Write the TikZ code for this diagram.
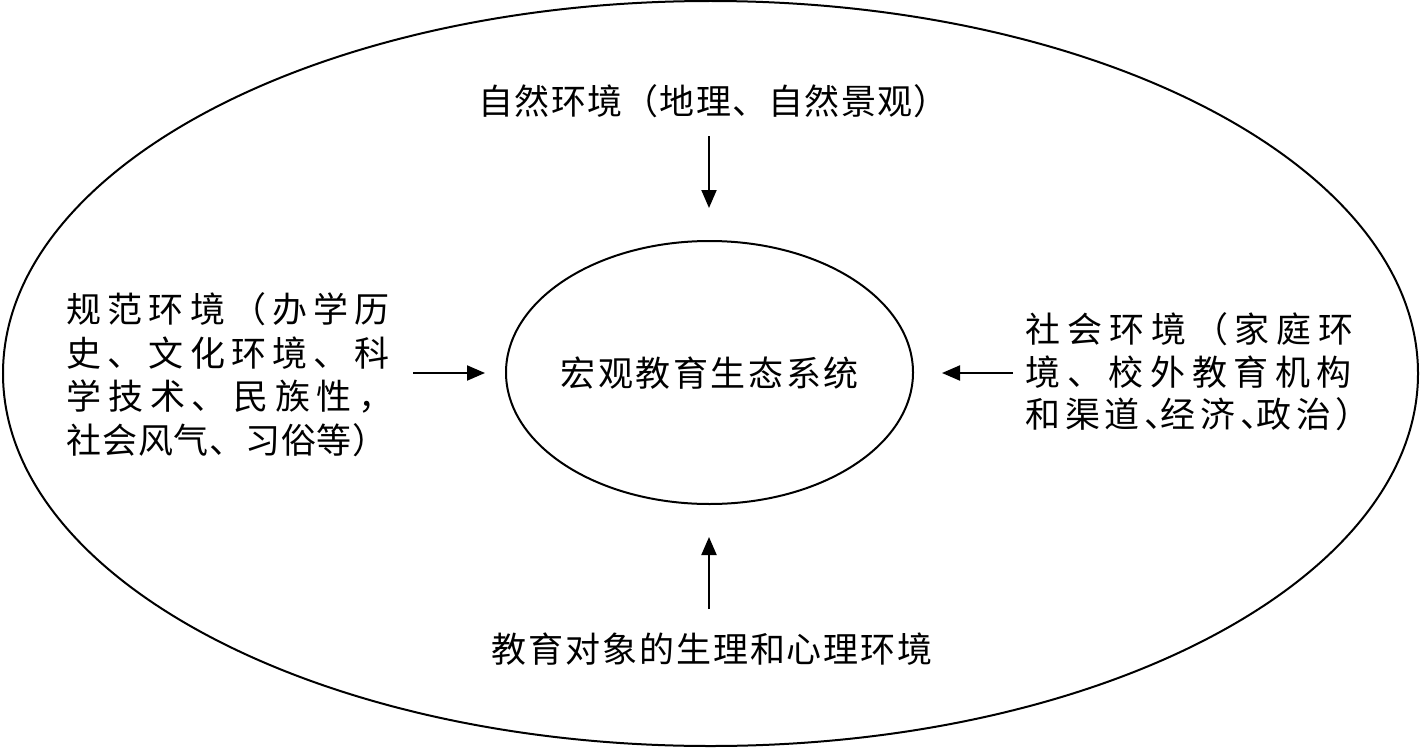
\documentclass[tikz,border=0pt]{standalone}
\usepackage{fontspec}
\newfontfamily\cjk{Noto Sans CJK SC}
\usetikzlibrary{arrows.meta,shapes.geometric}
\def\mygobble#1{}
\def\spreadA#1#2{#1\ifx#2\relax\expandafter\mygobble\else\hfil\expandafter\spreadA\fi#2}
\newcommand\spreadline[2]{\makebox[#1pt][s]{\spreadA#2\relax}}
\def\hw{\makebox[12pt][l]{、}}
\tikzset{
  lbl/.style={inner sep=0pt, anchor=west, font=\cjk\fontsize{35}{40}\selectfont},
  ell/.style={draw, ellipse, line width=2pt, inner sep=0pt},
  arr/.style={line width=2pt, -{Triangle[length=18pt,width=15pt]}}
}
\begin{document}
\begin{tikzpicture}[x=1pt,y=-1pt]
\useasboundingbox (0,0) rectangle (1420,749);
\node[ell, minimum width=1415pt, minimum height=745pt] (outer) at (710.5,373.5) {};
\node[ell, minimum width=407pt, minimum height=263pt] (inner) at (709.5,372.5) {};
\node[lbl] (center) at (560.5,373) {\spreadline{298}{宏观教育生态系统}};
\node[lbl] (top) at (478.5,101) {\spreadline{470}{自然环境（地理、自然景观）}};
\node[lbl] (bottom) at (491.5,649) {\spreadline{441}{教育对象的生理和心理环境}};
\node[lbl] (l1) at (66.5,309) {\spreadline{323}{规范环境（办学历}};
\node[lbl] (l2) at (66.5,353) {\spreadline{323}{史、文化环境、科}};
\node[lbl] (l3) at (66.5,397) {\spreadline{327}{学技术、民族性，}};
\node[lbl] (l4) at (66.5,440) {\spreadline{321}{社会风气、习俗等）}};
\node[lbl] (r1) at (1025.5,329) {\spreadline{328}{社会环境（家庭环}};
\node[lbl] (r2) at (1025.5,372) {\spreadline{326}{境、校外教育机构}};
\node[lbl] (r3) at (1025.5,414) {\spreadline{345}{和渠道\hw 经济\hw 政治）}};
\coordinate (ta) at (709,136);
\coordinate (tb) at (709,208);
\coordinate (ba) at (709,609);
\coordinate (bb) at (709,537);
\coordinate (la) at (413,373);
\coordinate (lb) at (485,373);
\coordinate (ra) at (1013,373);
\coordinate (rb) at (942,373);
\draw[arr] (ta) -- (tb);
\draw[arr] (ba) -- (bb);
\draw[arr] (la) -- (lb);
\draw[arr] (ra) -- (rb);
\end{tikzpicture}
\end{document}
